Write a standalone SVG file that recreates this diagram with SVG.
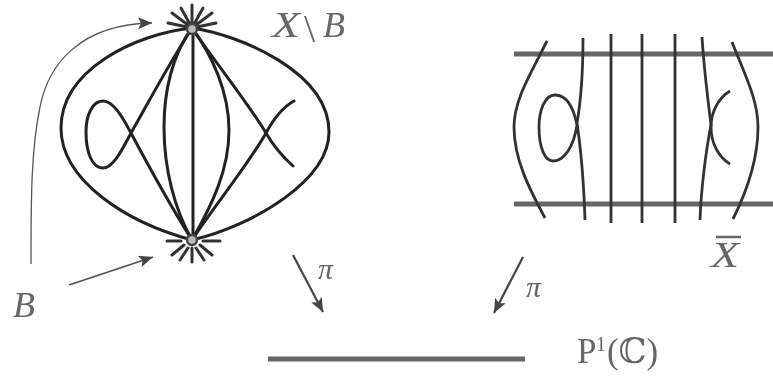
<svg xmlns="http://www.w3.org/2000/svg" width="773" height="379" viewBox="0 0 773 379">
<style>
.c{fill:none;stroke:#222;stroke-width:3;stroke-linecap:round}
.k{fill:none;stroke:#333;stroke-width:3;stroke-linecap:round}
.v{fill:none;stroke:#333;stroke-width:2.8}
.h{fill:none;stroke:#666;stroke-width:5}
.a{fill:none;stroke:#555;stroke-width:1.3}
.b{fill:none;stroke:#444;stroke-width:2.2}
.n{fill:#bbb;stroke:#444;stroke-width:2.5}
.t{fill:#666;font-family:"Liberation Serif",serif;font-style:italic}
.u{fill:#666;font-family:"Liberation Serif","DejaVu Serif",serif}
</style>
<defs>
<filter id="b" x="-5%" y="-5%" width="110%" height="110%"><feGaussianBlur stdDeviation="0.5"/></filter>
<marker id="ah" markerUnits="userSpaceOnUse" markerWidth="16" markerHeight="14" refX="14" refY="6" orient="auto"><path d="M0 0L14 6L0 12L3 6Z" fill="#444"/></marker>
</defs>
<rect width="773" height="379" fill="#fff"/>
<g filter="url(#b)">
<g id="connectors">
<path class="a" d="M31 264C31 200 31 150 40 107C48 65 80 24 152 23" marker-end="url(#ah)"/>
<path class="a" style="stroke-width:1.8" d="M69 285L153 257" marker-end="url(#ah)"/>
<path class="b" d="M293 255L323 312" marker-end="url(#ah)"/>
<path class="b" d="M523 257L494 313" marker-end="url(#ah)"/>
</g>
<g id="fibration-left">
<path class="c" d="M192 28C135 34 61 70 61 128C61 180 125 222 192 240"/>
<path class="c" d="M192 28C240 35 329 72 329 132C329 180 255 225 192 240"/>
<path class="c" d="M192 28C170 62 148 103 131 133C122 150 113 168 103 168C92 168 86 152 86 132C86 116 92 101 103 101C113 101 122 116 131 133C148 165 170 205 192 240"/>
<path class="c" d="M192 28C215 62 248 103 266 133C274 147 283 157 293 166"/>
<path class="c" d="M192 240C215 205 248 165 266 133C274 118 283 107 294 101"/>
<path class="c" d="M192 28C172 55 164 92 164 127C164 170 175 210 192 240"/>
<path class="c" d="M192 28C212 55 229 92 229 130C229 170 212 205 192 240"/>
<path class="c" d="M193 28V240"/>
</g>
<g id="point-top">
<path class="k" d="M192 5V28M181 8L192 28M203 8L192 28M172 13L192 28M212 13L192 28M168 23L192 28M216 23L192 28"/>
<circle class="n" cx="192" cy="29" r="5"/>
</g>
<g id="point-bottom">
<path class="k" d="M192 248V262M188 248L180 260M196 248L204 260M184 245L172 255M200 245L212 255M181 241H167M203 241H220"/>
<circle class="n" cx="192" cy="240" r="5"/>
</g>
<g id="fibration-right">
<path class="h" d="M514 54H773M514 204H773"/>
<path class="v" d="M547 41C530 75 514 100 514 127C514 160 530 190 545 218"/>
<path class="v" d="M583 38C583 70 581 100 577 123C581 150 584 190 585 220"/>
<path class="v" d="M577 125C573 105 565 95 555 95C545 95 539 110 539 127C539 148 545 161 553 161C565 161 574 145 577 125"/>
<path class="v" d="M611 34V223M642 34V223M675 34V223"/>
<path class="v" d="M702 37C704 70 708 100 711 125C706 150 701 190 700 220"/>
<path class="v" d="M732 42C745 75 758 100 758 127C758 160 745 195 733 219"/>
<path class="v" d="M730 91C720 97 711 110 711 127C711 145 720 158 730 164"/>
</g>
<g id="base">
<path class="h" d="M268 359H525"/>
</g>
<g id="labels">
<text class="t" font-size="36" y="37"><tspan x="272" textLength="28" lengthAdjust="spacingAndGlyphs">X</tspan><tspan x="304" y="42" font-size="40" style="font-style:normal">\</tspan><tspan x="323" y="37">B</tspan></text>
<text class="t" x="13" y="317" font-size="36">B</text>
<text class="t" x="318" y="279" font-size="30">π</text>
<text class="t" x="526" y="297" font-size="30">π</text>
<text class="t" x="711" y="267" font-size="36" textLength="28" lengthAdjust="spacingAndGlyphs">X</text>
<path d="M716 237H741" stroke="#666" stroke-width="2.5"/>
<text class="u" font-size="35" y="363"><tspan x="577">P</tspan><tspan x="596" y="351" font-size="20">1</tspan><tspan x="607" y="363">(ℂ)</tspan></text>
</g>
</g>
</svg>
